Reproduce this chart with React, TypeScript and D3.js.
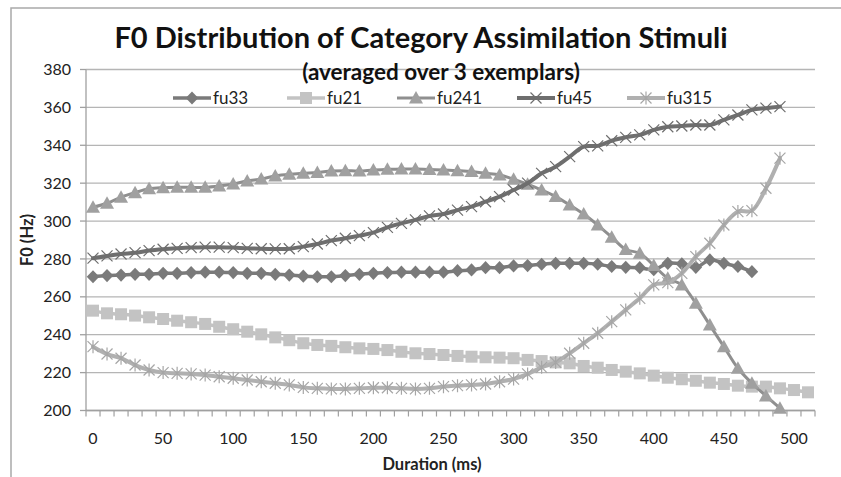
import React from "react";
import * as d3 from "d3";

const categories = [0,10,20,30,40,50,60,70,80,90,100,110,120,130,140,150,160,170,180,190,200,210,220,230,240,250,260,270,280,290,300,310,320,330,340,350,360,370,380,390,400,410,420,430,440,450,460,470,480,490,500,510];
const xTickLabels = [0,50,100,150,200,250,300,350,400,450,500];
const yTicks = [200,220,240,260,280,300,320,340,360,380];

const fu33 = [270.6,271.2,271.5,271.9,271.9,272.4,272.4,272.8,273,273,272.8,272.4,272.4,271.9,271.5,270.9,270.6,270.6,271.2,271.9,272.4,272.8,273,273,273,273,273.8,274.2,275.4,275.4,276.3,276.5,277.2,277.7,277.7,277.7,277.2,276,275.6,275.4,274.3,277.7,277.4,275.6,279.5,277.7,276,273.3];
const fu21 = [252.7,251.3,250.8,250.1,249.2,248.3,247.4,246.6,245.7,244.2,242.9,241.6,240.2,238.6,237.1,235.5,234.6,234.1,233.4,232.8,232.5,231.9,231.0,230.2,229.8,229.3,228.8,228.4,228.1,227.9,227.6,226.7,226.1,225.4,224.9,223.5,222.6,221.4,220.5,219.6,218.4,217.3,216.5,215.7,214.7,214,213.1,212.6,212.6,211.7,210.8,209.6];
const fu241 = [307.3,309.4,312.6,315.0,317.0,317.6,317.8,317.8,317.8,318.5,319.6,321.2,322.2,323.8,324.7,325.2,325.6,326.4,326.6,326.4,327,327.3,327.5,327.5,327.2,327,326.6,326.1,325.2,324.3,322.1,319.4,316.4,312.9,308.5,303.7,297.9,291.5,285,283,276.5,269.8,266.3,256.6,245.1,233.7,222.3,214.4,207.7,201.2];
const fu45 = [280.4,281.6,282.6,283.3,284.4,285.1,285.6,286,286.2,286.2,286,285.6,285.4,285.3,285.4,286.5,287.9,289.7,290.9,292.3,293.9,296.7,298.8,300.6,302.7,303.7,305.8,307.6,310.2,312.9,316.4,320,325.2,328.7,334,339.3,339.7,342.4,344.2,345.5,348.1,349.8,350.2,350.7,350.7,353.4,356,358.7,359.6,360.4];
const fu315 = [233.7,229.8,227.6,224,221.4,220,219.6,219.3,218.7,217.8,217,216.1,215.2,214.4,213.5,212.2,211.7,211.4,211.4,211.7,212,212,211.7,211.4,211.7,212.6,213.1,213.5,214,215.2,216.6,219.3,222.8,225.4,230.2,235.5,240.8,246.9,253.1,259.2,266.3,267.5,272.4,281.2,288.3,297.9,305,305.5,317.3,333.2];

const seriesNames = ["fu33", "fu21", "fu241", "fu45", "fu315"];
const seriesValues = [fu33, fu21, fu241, fu45, fu315];

type Style = { line: string; lw: number; marker: string; mColor: string };
const styles: Style[] = [
  { line: "#7a7a7a", lw: 3.5, marker: "diamond", mColor: "#7a7a7a" },
  { line: "#c3c3c3", lw: 3.5, marker: "square", mColor: "#c3c3c3" },
  { line: "#8f8f8f", lw: 3, marker: "triangle", mColor: "#a0a0a0" },
  { line: "#6e6e6e", lw: 4, marker: "x", mColor: "#6e6e6e" },
  { line: "#b0b0b0", lw: 4, marker: "star", mColor: "#a6a6a6" },
];
const legendX = [173, 287, 397, 517, 627];

const W = 841, H = 477;
const L = 86, R = 815, T = 69.5, B = 410.5;
const FONT = "Lato, 'Open Sans', sans-serif";

function Marker({ kind, x, y, color }: { kind: string; x: number; y: number; color: string }) {
  const s = 6.3;
  if (kind === "diamond")
    return <path d={`M${x},${y - s - 0.3}L${x + s},${y}L${x},${y + s + 0.3}L${x - s},${y}Z`} fill={color} />;
  if (kind === "square") return <rect x={x - 6} y={y - 6} width={12} height={12} fill={color} />;
  if (kind === "triangle")
    return <path d={`M${x},${y - 7}L${x + 7},${y + 5.5}L${x - 7},${y + 5.5}Z`} fill={color} />;
  if (kind === "x")
    return (
      <path d={`M${x - 5.5},${y - 5.5}L${x + 5.5},${y + 5.5}M${x - 5.5},${y + 5.5}L${x + 5.5},${y - 5.5}`} stroke={color} strokeWidth={1.2} fill="none" />
    );
  return (
    <path
      d={`M${x - 5.5},${y - 5.5}L${x + 5.5},${y + 5.5}M${x - 5.5},${y + 5.5}L${x + 5.5},${y - 5.5}M${x},${y - 6.5}L${x},${y + 6.5}`}
      stroke={color}
      strokeWidth={1.2}
      fill="none"
    />
  );
}

export default function App() {
  const x = d3.scaleBand<number>().domain(categories).range([L, R]).padding(0);
  const bw = x.bandwidth();
  const cx = (c: number) => (x(c) as number) + bw / 2;
  const y = d3.scaleLinear().domain([200, 380]).range([B, T]);

  const line = d3
    .line<[number, number]>()
    .x((d) => d[0])
    .y((d) => d[1])
    .curve(d3.curveCatmullRom.alpha(0.5));

  const boundaries = categories.map((c) => x(c) as number).concat([R]);

  return (
    <svg width={W} height={H} style={{ position: "fixed", left: 0, top: 0, background: "#fff" }} fontFamily={FONT}>
      <rect x={0} y={0} width={W} height={H} fill="#fff" />
      <path d={`M11,${H}L11,8L${W},8`} stroke="#a9a9a9" strokeWidth={1.5} fill="none" />
      {yTicks.map((t) => (
        <g key={t}>
          <line x1={L} x2={R} y1={y(t)} y2={y(t)} stroke="#b5b5b5" strokeWidth={1.3} />
          <line x1={L - 6} x2={L} y1={y(t)} y2={y(t)} stroke="#a0a0a0" strokeWidth={1.3} />
          <text x={71} y={y(t)} dy="0.35em" textAnchor="end" fontSize={16} fill="#222">
            {t}
          </text>
        </g>
      ))}
      <line x1={L} x2={L} y1={T} y2={B} stroke="#a0a0a0" strokeWidth={1.3} />
      <line x1={L} x2={R} y1={B} y2={B} stroke="#a0a0a0" strokeWidth={1.3} />
      {boundaries.map((b, i) => (
        <line key={i} x1={b} x2={b} y1={B} y2={B + 6} stroke="#a0a0a0" strokeWidth={1.2} />
      ))}
      {xTickLabels.map((t) => (
        <text key={t} x={cx(t)} y={438} dy="0.35em" textAnchor="middle" fontSize={16} fill="#222">
          {t}
        </text>
      ))}
      <text x={432} y={464} dy="0.35em" textAnchor="middle" fontSize={16.5} fontWeight="bold" fill="#222">
        Duration (ms)
      </text>
      <text transform={`translate(27,240) rotate(-90)`} dy="0.35em" textAnchor="middle" fontSize={16.5} fontWeight="bold" fill="#222">
        F0 (Hz)
      </text>
      <text x={421} y={38} dy="0.35em" textAnchor="middle" fontSize={29} fontWeight="bold" fill="#111">
        F0 Distribution of Category Assimilation Stimuli
      </text>
      <text x={441} y={72.5} dy="0.35em" textAnchor="middle" fontSize={22.5} fontWeight="bold" fill="#111">
        (averaged over 3 exemplars)
      </text>

      {seriesValues.map((vals, si) => {
        const st = styles[si];
        const pts: [number, number][] = vals.map((v, i) => [cx(categories[i]), y(v)]);
        return (
          <g key={seriesNames[si]}>
            <path d={line(pts) || ""} fill="none" stroke={st.line} strokeWidth={st.lw} strokeLinejoin="round" strokeLinecap="round" />
            {pts.map((p, i) => (
              <Marker key={i} kind={st.marker} x={p[0]} y={p[1]} color={st.mColor} />
            ))}
          </g>
        );
      })}

      {seriesNames.map((n, si) => {
        const st = styles[si];
        const x0 = legendX[si];
        return (
          <g key={n}>
            <line x1={x0} x2={x0 + 38} y1={98} y2={98} stroke={st.line} strokeWidth={st.lw} />
            <Marker kind={st.marker} x={x0 + 19} y={98} color={st.mColor} />
            <text x={x0 + 40} y={98} dy="0.35em" fontSize={17} fill="#222">
              {n}
            </text>
          </g>
        );
      })}
    </svg>
  );
}
